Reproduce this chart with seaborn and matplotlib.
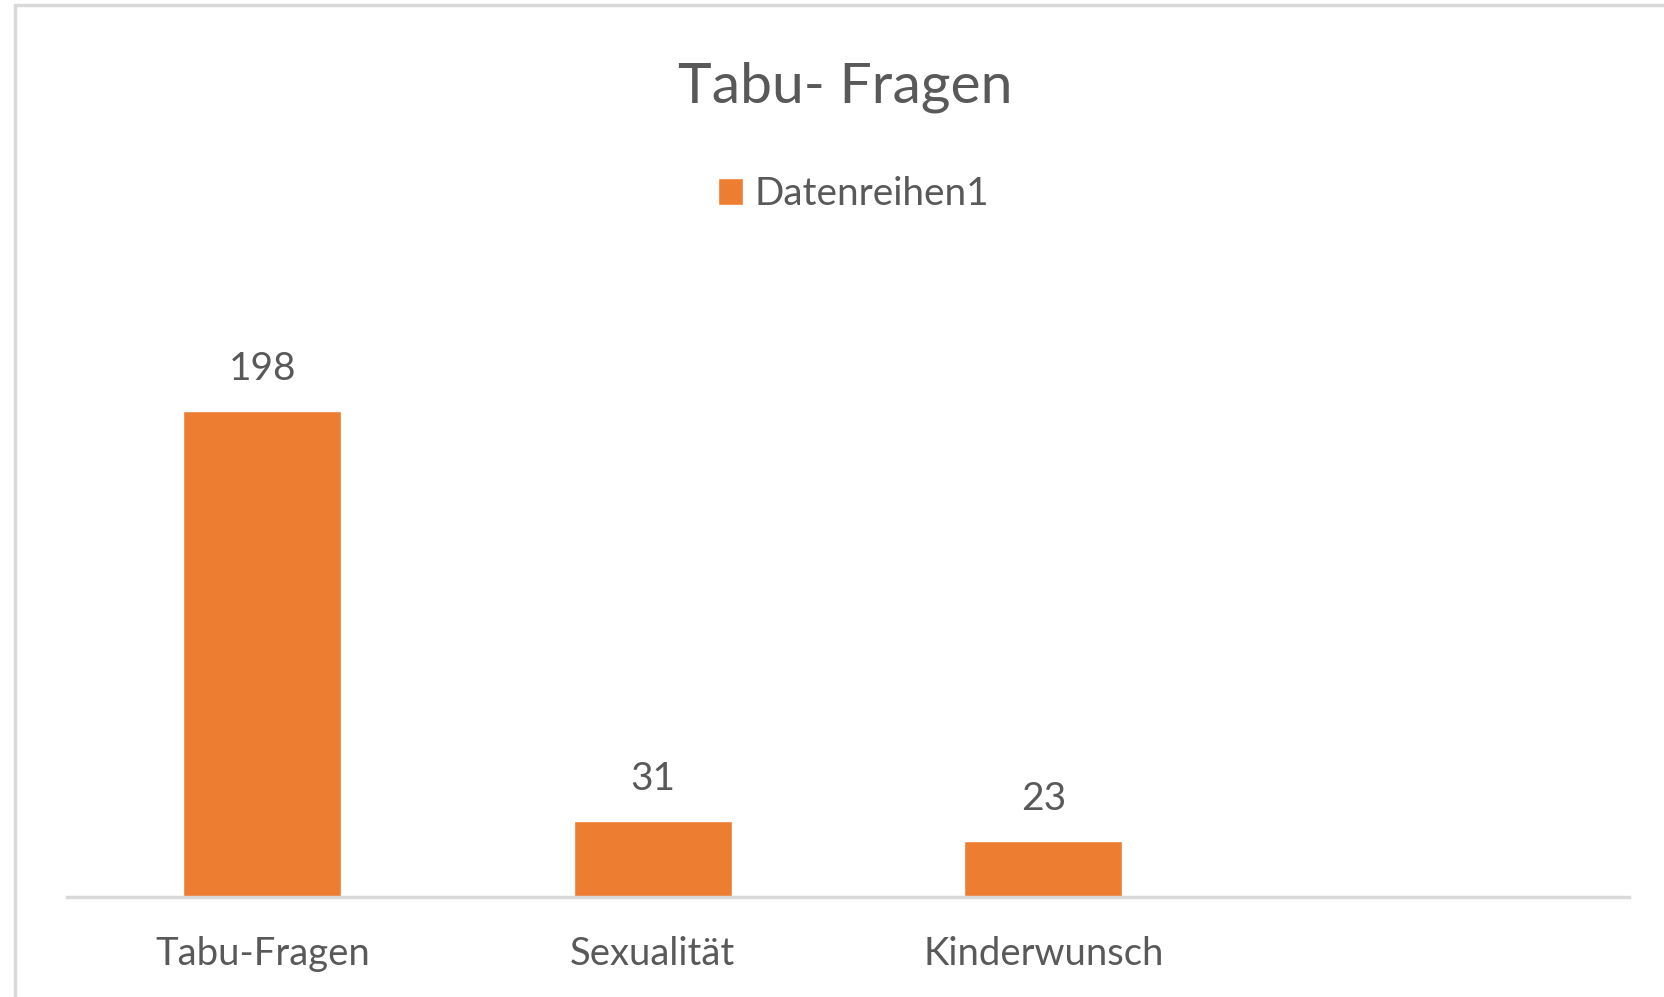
import pandas as pd
import matplotlib.pyplot as plt
import seaborn as sns
from matplotlib.lines import Line2D

# data
categories = ['Tabu-Fragen', 'Sexualität', 'Kinderwunsch']
values = [198, 31, 23]
series_name = 'Datenreihen1'

df = pd.DataFrame({'Kategorie': categories, 'Anzahl': values, 'Reihe': series_name})

sns.set_theme(style='white')
plt.rcParams['font.family'] = ['Lato', 'DejaVu Sans']
text_grey = '#595959'
line_grey = '#d9d9d9'
orange = '#ed7d31'

fig = plt.figure(figsize=(16.64, 9.97), dpi=100)
ax = fig.add_axes([0.0403, 0.1003, 0.9387, 0.6158])

sns.barplot(data=df, x='Kategorie', y='Anzahl', hue='Reihe', palette=[orange],
            saturation=1, width=0.405, ax=ax, legend=True)

# Excel leaves room for a fourth, empty category slot
ax.set_xlim(-0.5, 3.5)
ax.set_ylim(0, 250)

for c in ax.containers:
    ax.bar_label(c, padding=17, fontsize=28, color=text_grey)

ax.set_xlabel('')
ax.set_ylabel('')
ax.set_yticks([])
ax.tick_params(axis='x', length=0, pad=28, labelsize=27.5, labelcolor=text_grey)
for s in ['top', 'right', 'left']:
    ax.spines[s].set_visible(False)
ax.spines['bottom'].set_color(line_grey)
ax.spines['bottom'].set_linewidth(2.5)

fig.text(0.508, 0.912, 'Tabu- Fragen', ha='center', va='center',
         fontsize=41, color=text_grey)

sns.move_legend(ax, 'center', bbox_to_anchor=(0.513, 0.805),
                bbox_transform=fig.transFigure, title=None, frameon=False,
                fontsize=27.8, handlelength=0.65, handleheight=0.7,
                handletextpad=0.3, labelcolor=text_grey)

# chart-area frame (left and top edges visible in the screenshot)
fig.add_artist(Line2D([15 / 1664, 15 / 1664], [0, 1 - 5 / 997],
                      transform=fig.transFigure, color=line_grey, lw=2.5))
fig.add_artist(Line2D([15 / 1664, 1], [1 - 5 / 997, 1 - 5 / 997],
                      transform=fig.transFigure, color=line_grey, lw=2.5))

fig.savefig('out.png', dpi=100, facecolor='white')
